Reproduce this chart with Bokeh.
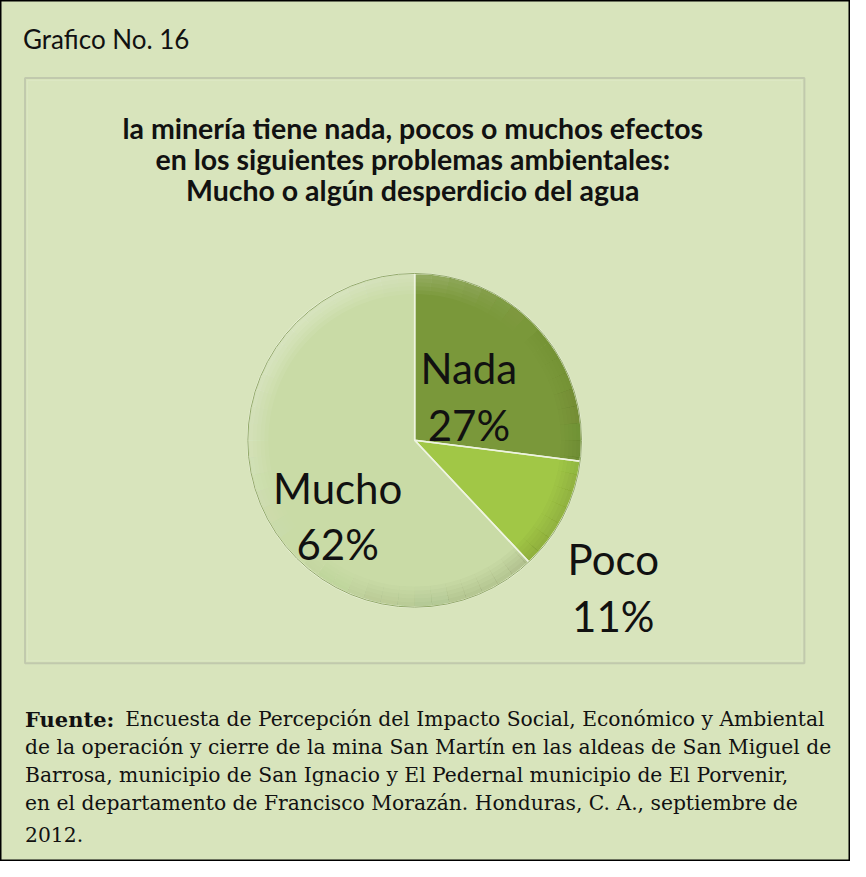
import numpy as np
from bokeh.plotting import figure
from bokeh.models import ColumnDataSource, Range1d, BoxAnnotation
from bokeh.core.properties import value
from bokeh.embed import file_html
from bokeh.resources import INLINE

# ---------------- data ----------------
categories = ["Nada", "Poco", "Mucho"]
percentages = [27, 11, 62]
header_text = "Grafico No. 16"
title_lines = [
    "la minería tiene nada, pocos o muchos efectos",
    "en los siguientes problemas ambientales:",
    "Mucho o algún desperdicio del agua",
]
source_label = "Fuente:"
source_lines = [
    "Encuesta de Percepción del Impacto Social, Económico y Ambiental",
    "de  la operación y cierre de la mina San Martín en las aldeas de San Miguel de",
    "Barrosa, municipio de San Ignacio y El Pedernal municipio de  El Porvenir,",
    "en el departamento de Francisco Morazán. Honduras, C. A., septiembre de",
    "2012.",
]

# ---------------- styling / layout ----------------
BG = "#d8e4bc"
INK = "#111111"
slice_colors = {"Nada": "#7a983a", "Poco": "#a1c746", "Mucho": "#c9dba6"}
# label placement relative to slice mid-angle: (distance, angle offset in degrees)
label_polar = {"Nada": (71, -2.4), "Poco": (252, -9.6), "Mucho": (110, 22.9)}

W, H = 850, 861
REF_W, REF_H = 866, 877
def Y(ry):  # reference pixel row -> data y
    return REF_H - ry

CX, CY, R = 422, Y(448), 170

p = figure(width=W, height=H, x_range=Range1d(0, REF_W), y_range=Range1d(0, REF_H),
           output_backend="svg", toolbar_location=None, min_border=0,
           x_axis_location=None, y_axis_location=None)
p.grid.visible = False
p.background_fill_color = BG
p.border_fill_color = BG
p.outline_line_color = "black"
p.outline_line_width = 2

# inner chart box
p.add_layout(BoxAnnotation(left=25, right=819, top=Y(79), bottom=Y(675),
                           fill_color=None, line_color="#8a8a8a", line_width=2))
p.add_layout(BoxAnnotation(left=27.5, right=816.5, top=Y(81.5), bottom=Y(672.5),
                           fill_color=None, line_color="#e6eed4", line_width=1))

# pie
vals = np.array(percentages, dtype=float)
frac = vals / vals.sum() * 2 * np.pi
cum_after = np.cumsum(frac)
cum_before = cum_after - frac
start = np.pi / 2 - cum_before
end = np.pi / 2 - cum_after
mid = (start + end) / 2
src = ColumnDataSource(dict(cat=categories, pct=percentages, start=start, end=end,
                            color=[slice_colors[c] for c in categories]))
p.wedge(x=CX, y=CY, radius=R, start_angle="start", end_angle="end", direction="clock",
        fill_color="color", line_color=None, source=src)

# soft bevel lit from the upper left (smoothly varying with angle)
STEP = np.deg2rad(6)
seg = np.arange(0, 2 * np.pi, STEP)
light = np.cos(seg + STEP / 2 - np.deg2rad(135))
bx, bs, be, bi, bc, ba = [], [], [], [], [], []
for k in range(1, 6):
    for s, l in zip(seg, light):
        bs.append(s); be.append(s + STEP * 1.02); bi.append(R - 4 * k - 1)
        bc.append("white" if l > 0 else "#3d4f1a")
        ba.append(0.065 * l if l > 0 else -0.03 * l)
bev = ColumnDataSource(dict(start=bs, end=be, inner=bi, color=bc, alpha=ba))
p.annular_wedge(x=CX, y=CY, inner_radius="inner", outer_radius=R - 1,
                start_angle="start", end_angle="end", fill_color="color",
                fill_alpha="alpha", line_color=None, source=bev)
p.wedge(x=CX, y=CY, radius=R, start_angle="start", end_angle="end", direction="clock",
        fill_color=None, line_color="#eef4e0", line_width=1.5, source=src)
p.circle(x=CX, y=CY, radius=R, fill_color=None, line_color="#93a96a", line_width=1)

# slice labels
lx, ly = [], []
for c, m in zip(categories, mid):
    d, off = label_polar[c]
    a = m + np.deg2rad(off)
    lx.append(CX + d * np.cos(a))
    ly.append(CY + d * np.sin(a))
lx = np.array(lx); ly = np.array(ly)
p.text(x=lx, y=ly + 29, text=categories, text_font=value("Lato"), text_font_size="42px",
       text_align="center", text_baseline="alphabetic", text_color=INK)
p.text(x=lx, y=ly - 29, text=[f"{v}%" for v in percentages], text_font=value("Lato"),
       text_font_size="42px", text_align="center", text_baseline="alphabetic",
       text_color=INK)

# header
p.text(x=[23], y=[Y(39)], text=[header_text], text_font=value("Lato"), text_font_size="26px",
       text_align="left", text_baseline="alphabetic", text_color=INK)

# chart title
p.text(x=[420] * 3, y=[Y(130), Y(161.5), Y(193)], text=title_lines, text_font=value("Lato"),
       text_font_size="28.5px", text_font_style="bold", text_align="center",
       text_baseline="alphabetic", text_color=INK)

# source note
p.text(x=[25], y=[Y(732)], text=[source_label], text_font=value("DejaVu Serif"),
       text_font_size="21px", text_font_style="bold", text_align="left",
       text_baseline="alphabetic", text_color=INK)
p.text(x=[127, 25, 25, 25, 25], y=[Y(732), Y(760), Y(789), Y(817), Y(850)], text=source_lines,
       text_font=value("DejaVu Serif"), text_font_size="20.3px", text_align="left",
       text_baseline="alphabetic", text_color=INK)

open("out.html", "w").write(file_html(p, INLINE))
